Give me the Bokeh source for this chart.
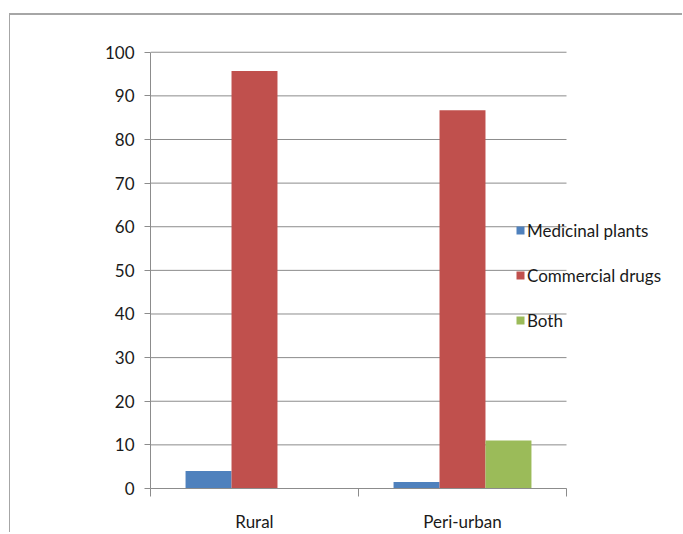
from bokeh.plotting import figure
from bokeh.models import FixedTicker, Legend, LegendItem
from bokeh.embed import file_html
from bokeh.resources import INLINE

# Share of respondents (%) by treatment source
categories = ["Rural", "Peri-urban"]
series = ["Medicinal plants", "Commercial drugs", "Both"]
medicinal_plants = [4.0, 1.5]
commercial_drugs = [95.7, 86.7]
both = [0.0, 11.0]
y_ticks = [0, 10, 20, 30, 40, 50, 60, 70, 80, 90, 100]

colors = ["#4F81BD", "#C0504D", "#9BBB59"]
grid_grey = "#8c8c8c"
font = "Lato"
font_size = "17px"

n_cat = len(categories)
centers = [i + 0.5 for i in range(n_cat)]
boundaries = [i for i in range(n_cat + 1)]
bar_w = 0.221
offsets = [-bar_w, 0.0, bar_w]

# the frame runs on to the right edge so the legend can sit over it;
# gridlines and the x axis stop at the last category boundary
p = figure(width=673, height=519, x_range=(0, 2.5625), y_range=(0, 100.4),
           output_backend="svg", toolbar_location=None,
           min_border_left=140, min_border_right=0,
           min_border_top=35, min_border_bottom=45)
p.margin = (13, 0, 0, 9)
p.styles = {"border-top": "2px solid #a6a6a6", "border-left": "1px solid #a6a6a6"}
p.outline_line_color = None
p.background_fill_color = "white"
p.border_fill_color = "white"

# horizontal gridlines
p.segment(x0=[0] * len(y_ticks), x1=[n_cat] * len(y_ticks), y0=y_ticks, y1=y_ticks,
          line_color=grid_grey, line_width=1)

renderers = []
for vals, off, col in zip([medicinal_plants, commercial_drugs, both], offsets, colors):
    r = p.vbar(x=[c + off for c in centers], top=vals, width=bar_w,
               fill_color=col, line_color=None)
    renderers.append(r)

# y axis
p.yaxis.ticker = FixedTicker(ticks=y_ticks)
p.yaxis.bounds = (0, 100)
p.yaxis.axis_line_color = grid_grey
p.yaxis.major_tick_line_color = grid_grey
p.yaxis.major_tick_out = 6
p.yaxis.major_tick_in = 0
p.yaxis.minor_tick_line_color = None
p.yaxis.major_label_standoff = 10
p.yaxis.major_label_text_font = font
p.yaxis.major_label_text_font_size = font_size
p.yaxis.major_label_text_color = "#1a1a1a"

# x axis: labels at category centres, ticks at category boundaries
p.xaxis.ticker = FixedTicker(ticks=centers, minor_ticks=boundaries)
p.xaxis.bounds = (0, n_cat)
p.xaxis.major_label_overrides = {c: name for c, name in zip(centers, categories)}
p.xaxis.axis_line_color = grid_grey
p.xaxis.major_tick_out = 0
p.xaxis.major_tick_in = 0
p.xaxis.minor_tick_line_color = grid_grey
p.xaxis.minor_tick_out = 8
p.xaxis.minor_tick_in = 0
p.xaxis.major_label_standoff = 14
p.xaxis.major_label_text_font = font
p.xaxis.major_label_text_font_size = font_size
p.xaxis.major_label_text_color = "#1a1a1a"

p.xgrid.grid_line_color = None
p.ygrid.grid_line_color = None

legend = Legend(items=[LegendItem(label=s, renderers=[r]) for s, r in zip(series, renderers)],
                location=(365, 157), glyph_width=10, glyph_height=10,
                label_standoff=2, spacing=23, label_height=22, padding=0, margin=0,
                background_fill_alpha=0, border_line_alpha=0,
                label_text_font=font, label_text_font_size=font_size,
                label_text_color="#1a1a1a")
p.add_layout(legend)

open("out.html", "w").write(file_html(p, INLINE))
